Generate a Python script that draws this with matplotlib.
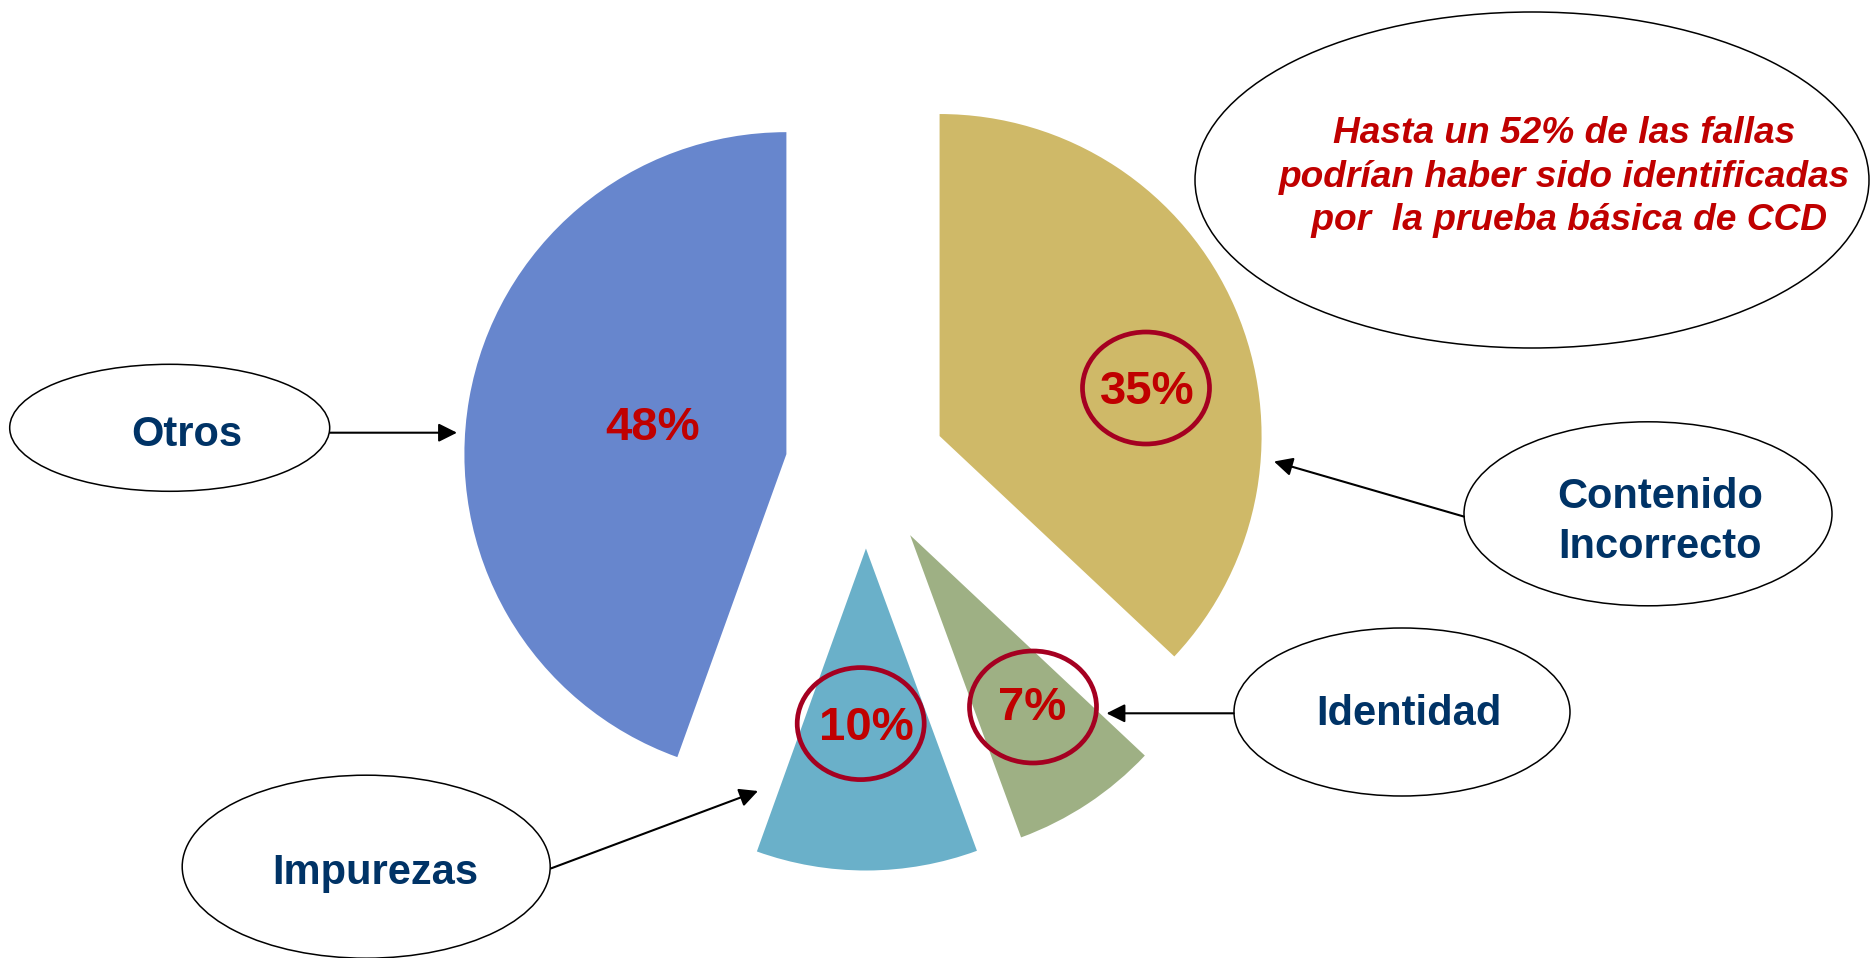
import matplotlib
matplotlib.use("Agg")
import matplotlib.pyplot as plt
from matplotlib.patches import Ellipse

plt.rcParams['font.family'] = ['Liberation Sans', 'DejaVu Sans']

# Slice data (clockwise from 12 o'clock), sizes as drawn in the picture
categories = ["Contenido\nIncorrecto", "Identidad", "Impurezas", "Otros"]
shares = [37.0, 7.4, 11.1, 44.5]
pct_labels = ["35%", "7%", "10%", "48%"]
colors = ["#CFB968", "#9EB084", "#6AB0C9", "#6786CD"]
note_lines = ["Hasta un 52% de las fallas",
              "podrían haber sido identificadas",
              " por  la prueba básica de CCD"]

W, H = 1871, 958
NAVY = "#003366"
RED = "#C00000"
RING = "#A50021"


def Y(y):
    # picture y (from top) -> axes y (from bottom)
    return H - y


fig = plt.figure(figsize=(W / 100, H / 100), dpi=100)
ax = fig.add_axes([0, 0, 1, 1])

RADIUS = 322
ax.pie(shares, colors=colors, startangle=90, counterclock=False,
       radius=RADIUS, center=(865.7, Y(468)),
       explode=[0.25 * RADIUS] * len(shares),
       wedgeprops=dict(linewidth=0))

ax.set_xlim(0, W)
ax.set_ylim(0, H)
ax.set_aspect('equal')
ax.set_axis_off()

# percentage labels and their rings
pct_pos = [(1147.5, 404), (1031.9, 720), (866.8, 740), (652.7, 440)]
ring_pos = [(1146, 388), (1033, 707), (860.7, 723.6), None]
for lab, (px, py), ring in zip(pct_labels, pct_pos, ring_pos):
    ax.text(px, Y(py), lab, color=RED, fontsize=34, fontweight='bold',
            ha='center', va='baseline')
    if ring is not None:
        ax.add_patch(Ellipse((ring[0], Y(ring[1])), 127, 112, fill=False,
                             edgecolor=RING, linewidth=3.4))

# callout ellipses: centre, width, height
bubbles = {
    "Otros": ((169.7, 427.8), 320, 127),
    "Impurezas": ((366.2, 866.7), 368, 183),
    "Identidad": ((1402, 712), 336, 168),
    "Contenido\nIncorrecto": ((1648, 513.8), 368, 184),
}
for (cx, cy), bw, bh in bubbles.values():
    ax.add_patch(Ellipse((cx, Y(cy)), bw, bh, facecolor='white',
                         edgecolor='black', linewidth=1.1))
ax.add_patch(Ellipse((1532, Y(180)), 674, 336, facecolor='white',
                     edgecolor='black', linewidth=1.1))

# callout labels: x centre, baselines
label_pos = {
    "Otros": (186.7, [446]),
    "Impurezas": (375.5, [884]),
    "Identidad": (1409, [725]),
    "Contenido\nIncorrecto": (1660, [508.3, 558.3]),
}
for name in categories:
    lx, bases = label_pos[name]
    for line, b in zip(name.split("\n"), bases):
        ax.text(lx, Y(b), line, color=NAVY, fontsize=30, fontweight='bold',
                ha='center', va='baseline')

# note text in the big ellipse
for line, b in zip(note_lines, [143.3, 186.7, 230]):
    ax.text(1564.5, Y(b), line, color=RED, fontsize=26.7, fontweight='bold',
            fontstyle='italic', ha='center', va='baseline')

# arrows from bubbles to slices
arrows = [((330, 432.7), (457, 432.7)),
          ((551, 868.4), (758, 791)),
          ((1233.7, 713.3), (1106.5, 713.3)),
          ((1464, 516.6), (1274, 461.5))]
for (tx, ty), (hx, hy) in arrows:
    ax.annotate('', xy=(hx, Y(hy)), xytext=(tx, Y(ty)),
                arrowprops=dict(arrowstyle='-|>,head_length=0.8,head_width=0.4',
                                mutation_scale=14, lw=1.5, color='black',
                                shrinkA=0, shrinkB=0))

fig.savefig("out.png", dpi=100, facecolor='white')
